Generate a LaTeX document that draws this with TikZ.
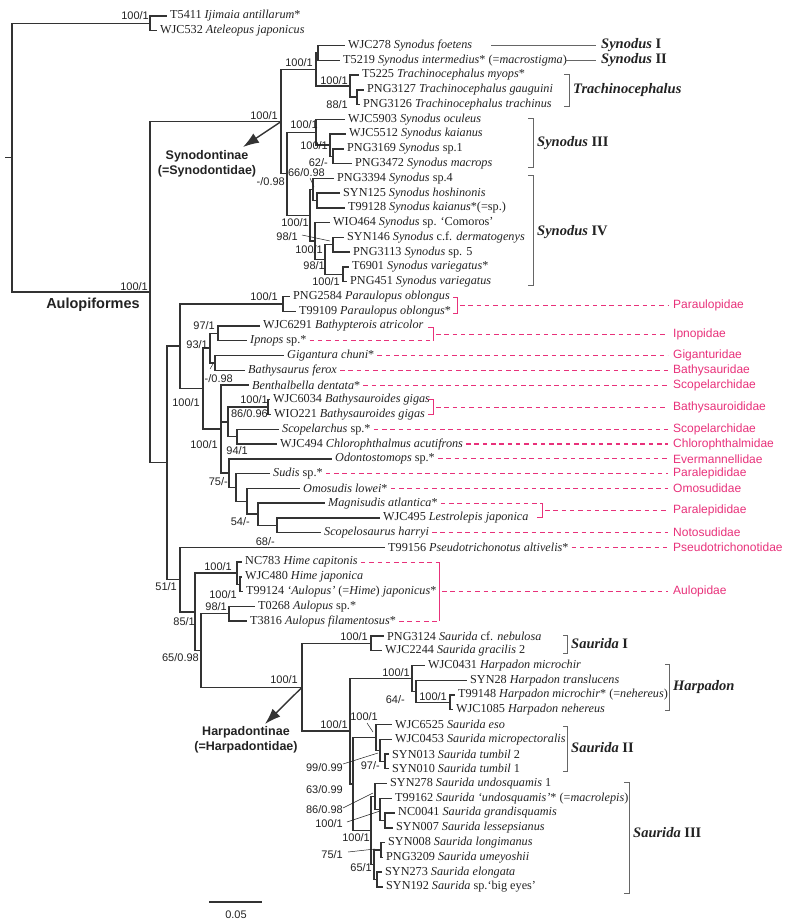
\documentclass[tikz,border=0pt]{standalone}
\usepackage{fontspec}
\setmainfont{Liberation Serif}
\newfontfamily\sff{Liberation Sans}
\usetikzlibrary{arrows.meta}
\definecolor{famc}{HTML}{E8317A}
\definecolor{tree}{HTML}{333333}
\definecolor{brk}{HTML}{666666}
\definecolor{txt}{HTML}{222222}
\newcommand{\pyy}[1]{{1+(#1-16)/14.76}}
\begin{document}
\begin{tikzpicture}[x=1pt,y=-14.76pt,
 br/.style={draw=tree,line width=1.4pt},
 lf/.style={anchor=west,inner xsep=3pt,inner ysep=1pt,font=\fontsize{12.2}{13}\selectfont,text=txt},
 sv/.style={anchor=east,inner sep=0pt,font=\sff\fontsize{11}{12}\selectfont,text=txt},
 fam/.style={anchor=west,inner sep=0pt,font=\sff\fontsize{12}{13}\selectfont,text=famc},
 fd/.style={draw=famc,line width=1pt,dash pattern=on 4.5pt off 3.8pt},
 fb/.style={draw=famc,line width=0.9pt},
 cb/.style={draw=brk,line width=0.8pt},
 cl/.style={anchor=west,inner sep=0pt,font=\fontsize{14.5}{16}\selectfont\bfseries,text=txt},
 ld/.style={draw=txt,line width=0.5pt},
 big/.style={font=\sff\bfseries\fontsize{12.5}{15.5}\selectfont,text=txt,align=center},
 arr/.style={draw=tree,line width=1.4pt,-{Latex[length=16pt,width=11pt]}}
]
\useasboundingbox (0,\pyy{0}) rectangle (794,\pyy{921});
% ---------- leaves ----------
\node[lf] (l1) at (167,1) {T5411 \textit{Ijimaia antillarum}*};
\node[lf] (l2) at (157,2) {WJC532 \textit{Ateleopus japonicus}};
\node[lf] (l3) at (345,3) {WJC278 \textit{Synodus foetens}};
\node[lf] (l4) at (340,4) {T5219 \textit{Synodus intermedius}* (=\textit{macrostigma})};
\node[lf] (l5) at (359,5) {T5225 \textit{Trachinocephalus myops}*};
\node[lf] (l6) at (364,6) {PNG3127 \textit{Trachinocephalus gauguini}};
\node[lf] (l7) at (360,7) {PNG3126 \textit{Trachinocephalus trachinus}};
\node[lf] (l8) at (345,8) {WJC5903 \textit{Synodus oculeus}};
\node[lf] (l9) at (346,9) {WJC5512 \textit{Synodus kaianus}};
\node[lf] (l10) at (344,10) {PNG3169 \textit{Synodus} sp.1};
\node[lf] (l11) at (352,11) {PNG3472 \textit{Synodus macrops}};
\node[lf] (l12) at (334,12) {PNG3394 \textit{Synodus} sp.4};
\node[lf] (l13) at (340,13) {SYN125 \textit{Synodus hoshinonis}};
\node[lf] (l14) at (345,14) {T99128 \textit{Synodus kaianus}*(=sp.)};
\node[lf] (l15) at (330,15) {WIO464 \textit{Synodus} sp. ‘Comoros’};
\node[lf] (l16) at (344,16) {SYN146 \textit{Synodus} c.f. \textit{dermatogenys}};
\node[lf] (l17) at (350,17) {PNG3113 \textit{Synodus} sp. 5};
\node[lf] (l18) at (349,18) {T6901 \textit{Synodus variegatus}*};
\node[lf] (l19) at (347,19) {PNG451 \textit{Synodus variegatus}};
\node[lf] (l20) at (290,20) {PNG2584 \textit{Paraulopus oblongus}};
\node[lf] (l21) at (296,21) {T99109 \textit{Paraulopus oblongus}*};
\node[lf] (l22) at (260,22) {WJC6291 \textit{Bathypterois atricolor}};
\node[lf] (l23) at (247,23) {\textit{Ipnops} sp.*};
\node[lf] (l24) at (284,24) {\textit{Gigantura chuni}*};
\node[lf] (l25) at (245,25) {\textit{Bathysaurus ferox}};
\node[lf] (l26) at (249,26) {\textit{Benthalbella dentata}*};
\node[lf] (l27) at (270,27) {WJC6034 \textit{Bathysauroides gigas}};
\node[lf] (l28) at (271,28) {WIO221 \textit{Bathysauroides gigas}};
\node[lf] (l29) at (279,29) {\textit{Scopelarchus} sp.*};
\node[lf] (l30) at (277,30) {WJC494 \textit{Chlorophthalmus acutifrons}};
\node[lf] (l31) at (332,31) {\textit{Odontostomops} sp.*};
\node[lf] (l32) at (270,32) {\textit{Sudis} sp.*};
\node[lf] (l33) at (300,33) {\textit{Omosudis lowei}*};
\node[lf] (l34) at (325,34) {\textit{Magnisudis atlantica}*};
\node[lf] (l35) at (380,35) {WJC495 \textit{Lestrolepis japonica}};
\node[lf] (l36) at (321,36) {\textit{Scopelosaurus harryi}};
\node[lf] (l37) at (385,37) {T99156 \textit{Pseudotrichonotus altivelis}*};
\node[lf] (l38) at (242,38) {NC783 \textit{Hime capitonis}};
\node[lf] (l39) at (242,39) {WJC480 \textit{Hime japonica}};
\node[lf] (l40) at (243,40) {T99124 \textit{‘Aulopus’} (=\textit{Hime}) \textit{japonicus}*};
\node[lf] (l41) at (255,41) {T0268 \textit{Aulopus} sp.*};
\node[lf] (l42) at (247,42) {T3816 \textit{Aulopus filamentosus}*};
\node[lf] (l43) at (384,43) {PNG3124 \textit{Saurida} cf. \textit{nebulosa}};
\node[lf] (l44) at (382,44) {WJC2244 \textit{Saurida gracilis} 2};
\node[lf] (l45) at (425,45) {WJC0431 \textit{Harpadon microchir}};
\node[lf] (l46) at (467,46) {SYN28 \textit{Harpadon translucens}};
\node[lf] (l47) at (455,47) {T99148 \textit{Harpadon microchir}* (=\textit{nehereus})};
\node[lf] (l48) at (453,48) {WJC1085 \textit{Harpadon nehereus}};
\node[lf] (l49) at (392,49) {WJC6525 \textit{Saurida eso}};
\node[lf] (l50) at (392,50) {WJC0453 \textit{Saurida micropectoralis}};
\node[lf] (l51) at (389,51) {SYN013 \textit{Saurida tumbil} 2};
\node[lf] (l52) at (389,52) {SYN010 \textit{Saurida tumbil} 1};
\node[lf] (l53) at (387,53) {SYN278 \textit{Saurida undosquamis} 1};
\node[lf] (l54) at (392,54) {T99162 \textit{Saurida ‘undosquamis’}* (=\textit{macrolepis})};
\node[lf] (l55) at (395,55) {NC0041 \textit{Saurida grandisquamis}};
\node[lf] (l56) at (393,56) {SYN007 \textit{Saurida lessepsianus}};
\node[lf] (l57) at (385,57) {SYN008 \textit{Saurida longimanus}};
\node[lf] (l58) at (383,58) {PNG3209 \textit{Saurida umeyoshii}};
\node[lf] (l59) at (382,59) {SYN273 \textit{Saurida elongata}};
\node[lf] (l60) at (383,60) {SYN192 \textit{Saurida} sp.‘big eyes’};
% ---------- internal nodes ----------
\coordinate (nRoot) at (12,10.6);
\coordinate (rs) at (5,10.6);
\coordinate (nO) at (150,1.5);
\coordinate (nAul) at (150,19.71);
\coordinate (nSyn) at (281,8.156);
\coordinate (nA) at (316,4.625);
\coordinate (nN12) at (318,3.5);
\coordinate (nTr) at (350,5.75);
\coordinate (nT67) at (357,6.5);
\coordinate (nB) at (287,11.6875);
\coordinate (nIII) at (316,8.875);
\coordinate (nIII2) at (330,9.75);
\coordinate (nIII3) at (333,10.5);
\coordinate (nIV) at (310,14.5);
\coordinate (nIVa) at (313,12.75);
\coordinate (nIVa2) at (317,13.5);
\coordinate (nIVb) at (315,16.25);
\coordinate (nIVb2) at (325,17.5);
\coordinate (nIV1617) at (333,16.5);
\coordinate (nIV1819) at (343,18.5);
\coordinate (nC) at (167,31.27);
\coordinate (nD) at (180,23.37);
\coordinate (nP) at (283,20.5);
\coordinate (nF) at (203,26.24);
\coordinate (nG) at (210,23.5);
\coordinate (nG1) at (218,22.5);
\coordinate (nG2) at (215,24.5);
\coordinate (nH) at (221,28.99);
\coordinate (nH2) at (228,28.5);
\coordinate (nBs) at (268,27.5);
\coordinate (nSC) at (237,29.5);
\coordinate (n3136) at (229,31.97);
\coordinate (n3236) at (236,32.94);
\coordinate (n3336) at (247,33.875);
\coordinate (n3436) at (258,34.75);
\coordinate (n3536) at (277,35.5);
\coordinate (nE) at (180,39.18);
\coordinate (nI) at (195,41.37);
\coordinate (nJ) at (237,38.75);
\coordinate (nJ2) at (240,39.5);
\coordinate (nK) at (201,43.99);
\coordinate (nL) at (229,41.5);
\coordinate (nM) at (302,46.48);
\coordinate (nS1) at (371,43.5);
\coordinate (nN) at (350,49.45);
\coordinate (nHa) at (412,45.875);
\coordinate (nHa2) at (416,46.75);
\coordinate (nHa3) at (450,47.5);
\coordinate (nSS) at (353,53.03);
\coordinate (nS2) at (376,49.875);
\coordinate (nS2b) at (380,50.75);
\coordinate (nS2c) at (385,51.5);
\coordinate (nS3) at (371,56.19);
\coordinate (nS3a) at (375,53.875);
\coordinate (nS3a2) at (380,54.75);
\coordinate (nS3a3) at (385,55.5);
\coordinate (nS3b) at (374,58.5);
\coordinate (nS3b1) at (381,57.5);
\coordinate (nS3b2) at (377,59.5);
% ---------- branches ----------
\draw[br] (rs) -- (nRoot);
\foreach \p/\c in {nRoot/nO,nRoot/nAul,nAul/nSyn,nAul/nC,nSyn/nA,nSyn/nB,nA/nN12,nA/nTr,
  nTr/nT67,nB/nIII,nB/nIV,nIII/nIII2,nIII2/nIII3,nIV/nIVa,nIV/nIVb,nIVa/nIVa2,nIVb/nIVb2,
  nIVb2/nIV1617,nIVb2/nIV1819,nC/nD,nC/nE,nD/nP,nD/nF,nF/nG,nF/nH,nG/nG1,nG/nG2,nH/nH2,nH/n3136,
  nH2/nBs,nH2/nSC,n3136/n3236,n3236/n3336,n3336/n3436,n3436/n3536,nE/nI,nI/nJ,nI/nK,nJ/nJ2,
  nK/nL,nK/nM,nM/nS1,nM/nN,nN/nHa,nN/nSS,nHa/nHa2,nHa2/nHa3,nSS/nS2,nSS/nS3,nS2/nS2b,nS2b/nS2c,
  nS3/nS3a,nS3/nS3b,nS3a/nS3a2,nS3a2/nS3a3,nS3b/nS3b1,nS3b/nS3b2}
  {\draw[br] (\p) |- (\c);}
\foreach \p/\c in {nO/l1,nO/l2,nN12/l3,nN12/l4,nTr/l5,nT67/l6,nT67/l7,nIII/l8,nIII2/l9,nIII3/l10,
  nIII3/l11,nIVa/l12,nIVa2/l13,nIVa2/l14,nIVb/l15,nIV1617/l16,nIV1617/l17,nIV1819/l18,nIV1819/l19,
  nP/l20,nP/l21,nG1/l22,nG1/l23,nG2/l24,nG2/l25,nH/l26,nBs/l27,nBs/l28,nSC/l29,nSC/l30,n3136/l31,
  n3236/l32,n3336/l33,n3436/l34,n3536/l35,n3536/l36,nE/l37,nJ/l38,nJ2/l39,nJ2/l40,nL/l41,nL/l42,
  nS1/l43,nS1/l44,nHa/l45,nHa2/l46,nHa3/l47,nHa3/l48,nS2/l49,nS2b/l50,nS2c/l51,nS2c/l52,
  nS3a/l53,nS3a2/l54,nS3a3/l55,nS3a3/l56,nS3b1/l57,nS3b1/l58,nS3b2/l59,nS3b2/l60}
  {\draw[br] (\p) |- (\c.west);}
% ---------- support values ----------
\node[sv] (s1) at (149,\pyy{16}) {100/1};
\node[sv] (s2) at (148,\pyy{287}) {100/1};
\node[sv] (s3) at (278,\pyy{116}) {100/1};
\node[sv] (s4) at (313,\pyy{63}) {100/1};
\node[sv] (s5) at (348,\pyy{81}) {100/1};
\node[sv] (s6) at (348,\pyy{105}) {88/1};
\node[sv] (s7) at (318,\pyy{125}) {100/1};
\node[sv] (s8) at (328,\pyy{146}) {100/1};
\node[sv] (s9) at (328,\pyy{163}) {62/-};
\node[sv] (s10) at (285,\pyy{182}) {-/0.98};
\node[sv] (s11) at (325,\pyy{173}) {66/0.98};
\node[sv] (s12) at (309,\pyy{223}) {100/1};
\node[sv] (s13) at (298,\pyy{237}) {98/1};
\node[sv] (s14) at (323,\pyy{250}) {100/1};
\node[sv] (s15) at (325,\pyy{266}) {98/1};
\node[sv] (s16) at (340,\pyy{282}) {100/1};
\node[sv] (s17) at (278,\pyy{297}) {100/1};
\node[sv] (s18) at (215,\pyy{326}) {97/1};
\node[sv] (s19) at (208,\pyy{345}) {93/1};
\node[sv] (s20) at (233,\pyy{379}) {-/0.98};
\node[sv] (s21) at (268,\pyy{400}) {100/1};
\node[sv] (s22) at (268,\pyy{414}) {86/0.96};
\node[sv] (s23) at (200,\pyy{403}) {100/1};
\node[sv] (s24) at (218,\pyy{445}) {100/1};
\node[sv] (s25) at (248,\pyy{451}) {94/1};
\node[sv] (s26) at (228,\pyy{482}) {75/-};
\node[sv] (s27) at (250,\pyy{522}) {54/-};
\node[sv] (s28) at (275,\pyy{542}) {68/-};
\node[sv] (s29) at (177,\pyy{587}) {51/1};
\node[sv] (s30) at (232,\pyy{567}) {100/1};
\node[sv] (s31) at (237,\pyy{595}) {100/1};
\node[sv] (s32) at (227,\pyy{607}) {98/1};
\node[sv] (s33) at (195,\pyy{622}) {85/1};
\node[sv] (s34) at (199,\pyy{658}) {65/0.98};
\node[sv] (s35) at (298,\pyy{680}) {100/1};
\node[sv] (s36) at (368,\pyy{637}) {100/1};
\node[sv] (s37) at (410,\pyy{673}) {100/1};
\node[sv] (s38) at (405,\pyy{700}) {64/-};
\node[sv] (s39) at (447,\pyy{697}) {100/1};
\node[sv] (s40) at (348,\pyy{725}) {100/1};
\node[sv] (s41) at (378,\pyy{717}) {100/1};
\node[sv] (s42) at (343,\pyy{768}) {99/0.99};
\node[sv] (s43) at (380,\pyy{766}) {97/-};
\node[sv] (s44) at (343,\pyy{790}) {63/0.99};
\node[sv] (s45) at (343,\pyy{810}) {86/0.98};
\node[sv] (s46) at (343,\pyy{824}) {100/1};
\node[sv] (s47) at (370,\pyy{838}) {100/1};
\node[sv] (s48) at (343,\pyy{855}) {75/1};
\node[sv] (s49) at (372,\pyy{868}) {65/1};
% leaders
\draw[ld] (310,\pyy{178}) -- (314,\pyy{187});
\draw[ld] (302,\pyy{235}) -- (330,\pyy{241});
\draw[ld] (210,\pyy{369}) -- (213,\pyy{364});
\draw[ld] (367,\pyy{723}) -- (373,\pyy{732});
\draw[ld] (343,\pyy{764}) -- (378,\pyy{753});
\draw[ld] (343,\pyy{808}) -- (373,\pyy{793});
\draw[ld] (347,\pyy{822}) -- (380,\pyy{811});
\draw[ld] (348,\pyy{852}) -- (375,\pyy{849});
% ---------- big labels & arrows ----------
\node[big] (synl) at (207,\pyy{164}) {Synodontinae\\(=Synodontidae)};
\node[big] (harl) at (246,\pyy{740}) {Harpadontinae\\(=Harpadontidae)};
\node[font=\sff\bfseries\fontsize{14.5}{16}\selectfont,text=txt] (aul) at (93,\pyy{305}) {Aulopiformes};
\coordinate (a1) at (243,\pyy{147});
\coordinate (a2) at (265,\pyy{724});
\draw[arr] (nSyn) -- (a1);
\draw[arr] (nM) -- (a2);
% ---------- clade brackets ----------
\draw[cb] (491,3) -- (596,3);
\node[cl] (c1) at (601,3) {\textit{Synodus} I};
\draw[cb] (565,4) -- (596,4);
\node[cl] (c2) at (601,4) {\textit{Synodus} II};
\draw[cb] (564,\pyy{74}) -- (569,\pyy{74}) -- (569,\pyy{106}) -- (564,\pyy{106});
\node[cl] (c3) at (573,\pyy{90}) {\textit{Trachinocephalus}};
\draw[cb] (528,\pyy{118}) -- (533,\pyy{118}) -- (533,\pyy{167}) -- (528,\pyy{167});
\node[cl] (c4) at (537,\pyy{143}) {\textit{Synodus} III};
\draw[cb] (528,\pyy{175}) -- (533,\pyy{175}) -- (533,\pyy{285}) -- (528,\pyy{285});
\node[cl] (c5) at (537,\pyy{232}) {\textit{Synodus} IV};
\draw[cb] (563,\pyy{635}) -- (567,\pyy{635}) -- (567,\pyy{653}) -- (563,\pyy{653});
\node[cl] (c6) at (571,\pyy{644}) {\textit{Saurida} I};
\draw[cb] (665,\pyy{664}) -- (669,\pyy{664}) -- (669,\pyy{710}) -- (665,\pyy{710});
\node[cl] (c7) at (673,\pyy{687}) {\textit{Harpadon}};
\draw[cb] (563,\pyy{726}) -- (567,\pyy{726}) -- (567,\pyy{771}) -- (563,\pyy{771});
\node[cl] (c8) at (571,\pyy{748}) {\textit{Saurida} II};
\draw[cb] (624,\pyy{782}) -- (629,\pyy{782}) -- (629,\pyy{893}) -- (624,\pyy{893});
\node[cl] (c9) at (633,\pyy{833}) {\textit{Saurida} III};
% ---------- families ----------
\draw[fb] (453,\pyy{297}) -- (457,\pyy{297}) -- (457,\pyy{313}) -- (453,\pyy{313});
\draw[fd] (460,\pyy{305}) -- (668,\pyy{305});
\node[fam] (f1) at (673,\pyy{305}) {Paraulopidae};
\draw[fb] (428,\pyy{327}) -- (433,\pyy{327}) -- (433,\pyy{341});
\draw[fd] (l23.east) -- (433,23);
\draw[fd] (436,\pyy{334}) -- (668,\pyy{334});
\node[fam] (f2) at (673,\pyy{334}) {Ipnopidae};
\draw[fd] (l24.east) -- (668,24);
\node[fam] (f3) at (673,24) {Giganturidae};
\draw[fd] (l25.east) -- (668,25);
\node[fam] (f4) at (673,25) {Bathysauridae};
\draw[fd] (l26.east) -- (668,26);
\node[fam] (f5) at (673,26) {Scopelarchidae};
\draw[fb] (428,27) -- (433,27) -- (433,28) -- (428,28);
\draw[fd] (436,27.5) -- (668,27.5);
\node[fam] (f6) at (673,27.5) {Bathysauroididae};
\draw[fd] (l29.east) -- (668,29);
\node[fam] (f7) at (673,29) {Scopelarchidae};
\draw[fd,line width=1.2pt] (l30.east) -- (668,30);
\node[fam] (f8) at (673,30) {Chlorophthalmidae};
\draw[fd] (l31.east) -- (668,31);
\node[fam] (f9) at (673,31) {Evermannellidae};
\draw[fd] (l32.east) -- (668,32);
\node[fam] (f10) at (673,32) {Paralepididae};
\draw[fd] (l33.east) -- (668,33);
\node[fam] (f11) at (673,33) {Omosudidae};
\draw[fd] (l34.east) -- (542,34);
\draw[fb] (542,34) -- (542,35) -- (537,35);
\draw[fd] (545,34.5) -- (668,34.5);
\node[fam] (f12) at (673,34.5) {Paralepididae};
\draw[fd] (l36.east) -- (668,36);
\node[fam] (f13) at (673,36) {Notosudidae};
\draw[fd] (l37.east) -- (668,37);
\node[fam] (f14) at (673,37) {Pseudotrichonotidae};
\draw[fd] (l38.east) -- (439,38);
\draw[fd] (l42.east) -- (439,42);
\draw[fb] (439,38) -- (439,42);
\draw[fd] (442,40) -- (668,40);
\node[fam] (f15) at (673,40) {Aulopidae};
% ---------- scale bar ----------
\coordinate (sb1) at (209,\pyy{902});
\coordinate (sb2) at (262,\pyy{902});
\draw[br,line width=1.2pt] (sb1) -- (sb2);
\node[font=\sff\fontsize{11}{12}\selectfont,text=txt] (sbl) at (236,\pyy{915}) {0.05};
\end{tikzpicture}
\end{document}
